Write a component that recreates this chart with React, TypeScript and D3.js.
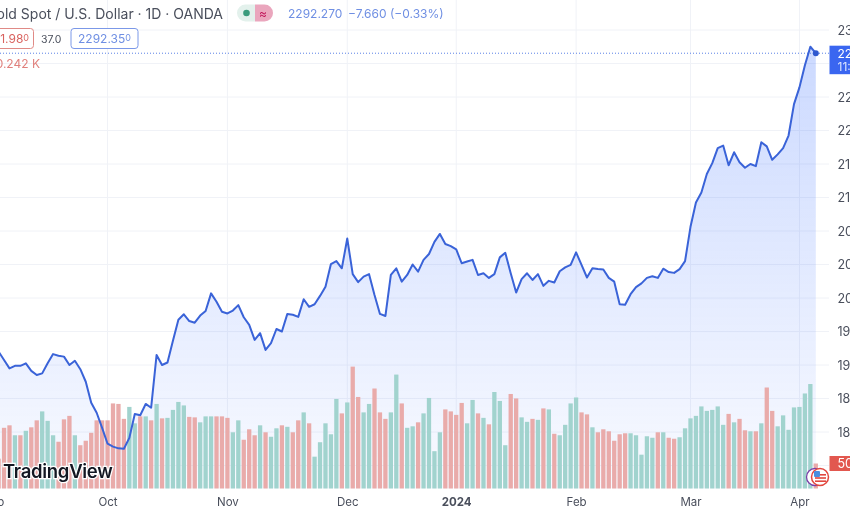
import React, { useEffect, useRef } from 'react';
import * as d3 from 'd3';

const closes = [
  1936, 1926, 1916, 1919, 1919, 1922, 1913, 1908, 1910, 1922,
  1933, 1931, 1930, 1920, 1925, 1915, 1900, 1875, 1863, 1845,
  1826, 1822.5, 1820.5, 1820, 1833, 1861.5, 1860, 1873.5, 1869, 1932,
  1920, 1923, 1949, 1974, 1980.5, 1972.5, 1970.5, 1979, 1984.5, 2005.5,
  1995.5, 1983.5, 1981.5, 1985, 1991.5, 1977, 1968, 1950, 1958, 1938,
  1946, 1963, 1960, 1981, 1980, 1977.5, 1998.5, 1989.5, 1992.5, 2002.5,
  2013.5, 2040.5, 2044, 2035.5, 2071, 2028.5, 2019, 2025.5, 2028.5, 2003.5,
  1981, 1978.5, 2027.5, 2035.5, 2019.5, 2027.5, 2040, 2031.5, 2045.5, 2052.5,
  2067, 2076.5, 2064.5, 2062, 2058, 2041.5, 2043.5, 2045.5, 2027.5, 2029.5,
  2024, 2028.5, 2048.5, 2054, 2029.5, 2006.5, 2022.5, 2029.5, 2021.5, 2028.5,
  2014.5, 2020.5, 2018.5, 2032, 2036.5, 2039.5, 2054.5, 2039.5, 2024.5, 2035.5,
  2034.5, 2034, 2024, 2019.5, 1992.5, 1992, 2004.5, 2013, 2017.5, 2024,
  2026, 2024, 2035, 2031, 2030, 2034.5, 2044, 2085, 2114, 2126,
  2148, 2161, 2179, 2182, 2158.5, 2174, 2162, 2155.5, 2160, 2157.5,
  2186, 2181, 2165, 2171.5, 2179, 2194, 2231.5, 2251.5, 2278, 2300,
  2292.27,
];

const volumes = [
  60, 122, 127, 107, 107, 116, 123, 137, 155, 136,
  107, 94, 139, 146, 107, 87, 96, 112, 137, 137,
  137, 171, 170, 140, 164, 131, 145, 145, 137, 170,
  141, 142, 158, 174, 167, 144, 143, 133, 145, 145,
  145, 145, 142, 113, 137, 98, 119, 107, 127, 113,
  104, 121, 127, 124, 113, 137, 153, 131, 64, 93,
  131, 109, 180, 151, 173, 245, 184, 153, 170, 201,
  153, 140, 153, 229, 171, 122, 125, 133, 151, 182,
  75, 113, 159, 155, 148, 172, 131, 178, 151, 142,
  129, 194, 176, 87, 190, 181, 143, 134, 140, 138,
  161, 159, 110, 107, 128, 171, 183, 153, 149, 123,
  113, 119, 115, 96, 109, 111, 111, 107, 68, 105,
  102, 113, 113, 102, 100, 103, 121, 141, 146, 165,
  156, 158, 165, 128, 150, 133, 140, 117, 115, 115,
  131, 203, 156, 125, 147, 118, 163, 164, 191, 210,
  50.242,
];

// r = down day, t = up day
const barSides =
  'rrrtrtrrtt' + 'trrrtrrrrr' + 'rrrrttrtrt' + 'rttttrrttt' + 'rrrttrrrtr' +
  'ttrtrrtrtt' + 'tttrtrrttr' + 'rrttrttrtt' + 'ttrrrrttrt' + 'rtttrrttrt' +
  'rtrttttrrt' + 'rrrrrrtttt' + 'trtrrttttt' + 'ttttrtrrtr' + 'trrttttttt' + 'r';

const dateTicks = [-1, 20, 42, 64, 84, 106, 127, 147];
const dateLabels = ['Sep', 'Oct', 'Nov', 'Dec', '2024', 'Feb', 'Mar', 'Apr'];
const priceTicks = d3.range(1800, 2321, 40);
// 1800 and 2280 sit behind the axis tags
const priceLabels = priceTicks.filter(d => d !== 1800 && d !== 2280);

const FONT = 'Inter, "Liberation Sans", sans-serif';
const TEXT = '#4a4f5c';
const BLUE = '#3a63d8';

export default function App() {
  const svgRef = useRef<SVGSVGElement>(null);

  useEffect(() => {
    if (!svgRef.current) return;
    const svg = d3.select(svgRef.current);
    svg.selectAll('*').remove();

    const x = d3.scaleLinear().domain([0, 150]).range([-1.4, 815.8]);
    const y = d3.scaleLinear().domain([1800, 2320]).range([465.5, 30]);
    const vol = d3.scaleLinear().domain([0, 200]).range([488.5, 389]);
    const axisY = 488.5;

    const defs = svg.append('defs');
    const grad = defs.append('linearGradient')
      .attr('id', 'area-fill')
      .attr('gradientUnits', 'userSpaceOnUse')
      .attr('x1', 0).attr('x2', 0).attr('y1', 47).attr('y2', axisY);
    grad.append('stop').attr('offset', 0).attr('stop-color', '#2962ff').attr('stop-opacity', 0.24);
    grad.append('stop').attr('offset', 1).attr('stop-color', '#2962ff').attr('stop-opacity', 0.03);

    // grid
    svg.append('g').selectAll('line').data(priceTicks).join('line')
      .attr('x1', 0).attr('x2', 829)
      .attr('y1', d => y(d)).attr('y2', d => y(d))
      .attr('stroke', '#f0f2f7');
    svg.append('g').selectAll('line').data(dateTicks).join('line')
      .attr('x1', d => x(d)).attr('x2', d => x(d))
      .attr('y1', 0).attr('y2', axisY)
      .attr('stroke', '#f0f2f7');

    // area and volume
    const area = d3.area<number>()
      .x((_, i) => x(i))
      .y0(axisY)
      .y1(d => y(d));
    svg.append('path').datum(closes).attr('d', area).attr('fill', 'url(#area-fill)');

    svg.append('g').selectAll('rect').data(volumes).join('rect')
      .attr('x', (_, i) => x(i) - 2.15)
      .attr('width', 4.3)
      .attr('y', d => vol(d))
      .attr('height', d => vol(0) - vol(d))
      .attr('fill', (_, i) => (barSides[i] === 'r' ? '#e9abaa' : '#a1d3ce'));

    // watermark
    svg.append('text')
      .attr('x', 3).attr('y', 478)
      .attr('font-family', FONT).attr('font-size', 18.5).attr('font-weight', 600)
      .attr('letter-spacing', -0.3)
      .attr('fill', '#131722')
      .attr('stroke', '#fff').attr('stroke-width', 2.5).attr('paint-order', 'stroke')
      .text('TradingView');

    // last price line
    svg.append('line')
      .attr('x1', 0).attr('x2', 829)
      .attr('y1', y(2292.27)).attr('y2', y(2292.27))
      .attr('stroke', '#5b82e6').attr('stroke-dasharray', '1 2');

    const line = d3.line<number>()
      .x((_, i) => x(i))
      .y(d => y(d));
    svg.append('path').datum(closes)
      .attr('d', line).attr('fill', 'none')
      .attr('stroke', BLUE).attr('stroke-width', 2).attr('stroke-linejoin', 'round');
    svg.append('circle')
      .attr('cx', x(150)).attr('cy', y(2292.27)).attr('r', 3)
      .attr('fill', '#2f58cf');

    // axes
    const dateAxis = d3.axisBottom(x)
      .tickValues(dateTicks)
      .tickSize(0)
      .tickPadding(0)
      .tickFormat((_, i) => dateLabels[i]);
    svg.append('g')
      .attr('transform', 'translate(0,498)')
      .call(dateAxis)
      .call(g => g.select('.domain').remove())
      .call(g => g.selectAll('.tick text')
        .attr('fill', TEXT).attr('font-family', FONT).attr('font-size', 11.5)
        .attr('font-weight', (_, i) => (dateLabels[i] === '2024' ? 700 : 400)));

    const priceAxis = d3.axisRight(y)
      .tickValues(priceLabels)
      .tickSize(0)
      .tickPadding(0)
      .tickFormat(d3.format('d'));
    svg.append('g')
      .attr('transform', 'translate(837.5,0)')
      .call(priceAxis)
      .call(g => g.select('.domain').remove())
      .call(g => g.selectAll('.tick text')
        .attr('fill', TEXT).attr('font-family', FONT).attr('font-size', 12.5));

    // axis tags
    svg.append('rect').attr('x', 829.5).attr('y', 45.7).attr('width', 21).attr('height', 28.5).attr('fill', '#3a66f0');
    svg.append('text').attr('x', 837.5).attr('y', 57.5)
      .attr('font-family', FONT).attr('font-size', 12).attr('fill', '#fff').text('2292.350');
    svg.append('text').attr('x', 837.5).attr('y', 70.5)
      .attr('font-family', FONT).attr('font-size', 12).attr('fill', '#dbe4ff').text('11:32:48');
    svg.append('rect').attr('x', 829.5).attr('y', 456).attr('width', 21).attr('height', 15).attr('fill', '#e2584f');
    svg.append('text').attr('x', 837.5).attr('y', 467.5)
      .attr('font-family', FONT).attr('font-size', 12.5).attr('fill', '#fff').text('50.242K');

    // flag badge
    const badge = svg.append('g');
    badge.append('circle').attr('cx', 815).attr('cy', 477).attr('r', 8.5)
      .attr('fill', '#fff').attr('stroke', '#7b3fa8').attr('stroke-width', 1.3);
    badge.append('circle').attr('cx', 820).attr('cy', 477).attr('r', 8.5)
      .attr('fill', '#fff').attr('stroke', '#e2473f').attr('stroke-width', 1.5);
    badge.selectAll('rect.stripe').data([0, 1, 2]).join('rect')
      .attr('class', 'stripe')
      .attr('x', 815).attr('width', 11).attr('height', 1.6)
      .attr('y', d => 474 + d * 3.2)
      .attr('fill', '#e2473f');
    badge.append('rect').attr('x', 814).attr('y', 471).attr('width', 6).attr('height', 6).attr('rx', 1).attr('fill', '#4a8fe0');

    // header
    svg.append('text').attr('x', 223).attr('y', 18.5).attr('text-anchor', 'end')
      .attr('font-family', FONT).attr('font-size', 14).attr('fill', TEXT)
      .text('Gold Spot / U.S. Dollar · 1D · OANDA');

    svg.append('path')
      .attr('d', 'M255,4.5 H245.5 A8.5,8.5 0 0 0 245.5,21.5 H255 Z')
      .attr('fill', '#e3f1ec');
    svg.append('path')
      .attr('d', 'M255,4.5 H264.5 A8.5,8.5 0 0 1 264.5,21.5 H255 Z')
      .attr('fill', '#eaa6bd');
    svg.append('circle').attr('cx', 246.5).attr('cy', 13).attr('r', 3.3).attr('fill', '#3a9b7c');
    svg.append('text').attr('x', 263).attr('y', 17.5).attr('text-anchor', 'middle')
      .attr('font-family', FONT).attr('font-size', 12).attr('fill', '#c2185b').text('≈');

    svg.append('text').attr('x', 288).attr('y', 18)
      .attr('font-family', FONT).attr('font-size', 12).attr('fill', '#6f8fe3').text('2292.270');
    svg.append('text').attr('x', 348).attr('y', 18)
      .attr('font-family', FONT).attr('font-size', 12).attr('fill', '#6f8fe3').text('−7.660 (−0.33%)');

    // bid / spread / ask
    svg.append('rect').attr('x', -40).attr('y', 28.5).attr('width', 73.5).attr('height', 20).attr('rx', 3)
      .attr('fill', '#fff').attr('stroke', '#e08a86');
    const bid = svg.append('text').attr('x', 29).attr('y', 43).attr('text-anchor', 'end')
      .attr('font-family', FONT).attr('font-size', 12).attr('fill', '#d9635f');
    bid.append('tspan').text('2291.98');
    bid.append('tspan').attr('font-size', 9).attr('dy', -2).text('0');

    svg.append('text').attr('x', 41).attr('y', 43)
      .attr('font-family', FONT).attr('font-size', 10.5).attr('fill', TEXT).text('37.0');

    svg.append('rect').attr('x', 71).attr('y', 28.5).attr('width', 67).attr('height', 20).attr('rx', 3)
      .attr('fill', '#fff').attr('stroke', '#7b98e8');
    const ask = svg.append('text').attr('x', 78).attr('y', 43)
      .attr('font-family', FONT).attr('font-size', 12).attr('fill', '#6f8fe3');
    ask.append('tspan').text('2292.35');
    ask.append('tspan').attr('font-size', 9).attr('dy', -2).text('0');

    svg.append('text').attr('x', 40).attr('y', 68).attr('text-anchor', 'end')
      .attr('font-family', FONT).attr('font-size', 12).attr('fill', '#e0807c').text('50.242 K');
  }, []);

  return (
    <div style={{ position: 'fixed', left: 0, top: 0, width: 850, height: 512, background: '#fff' }}>
      <svg ref={svgRef} width={850} height={512} style={{ display: 'block', filter: 'blur(0.35px)' }} />
    </div>
  );
}
